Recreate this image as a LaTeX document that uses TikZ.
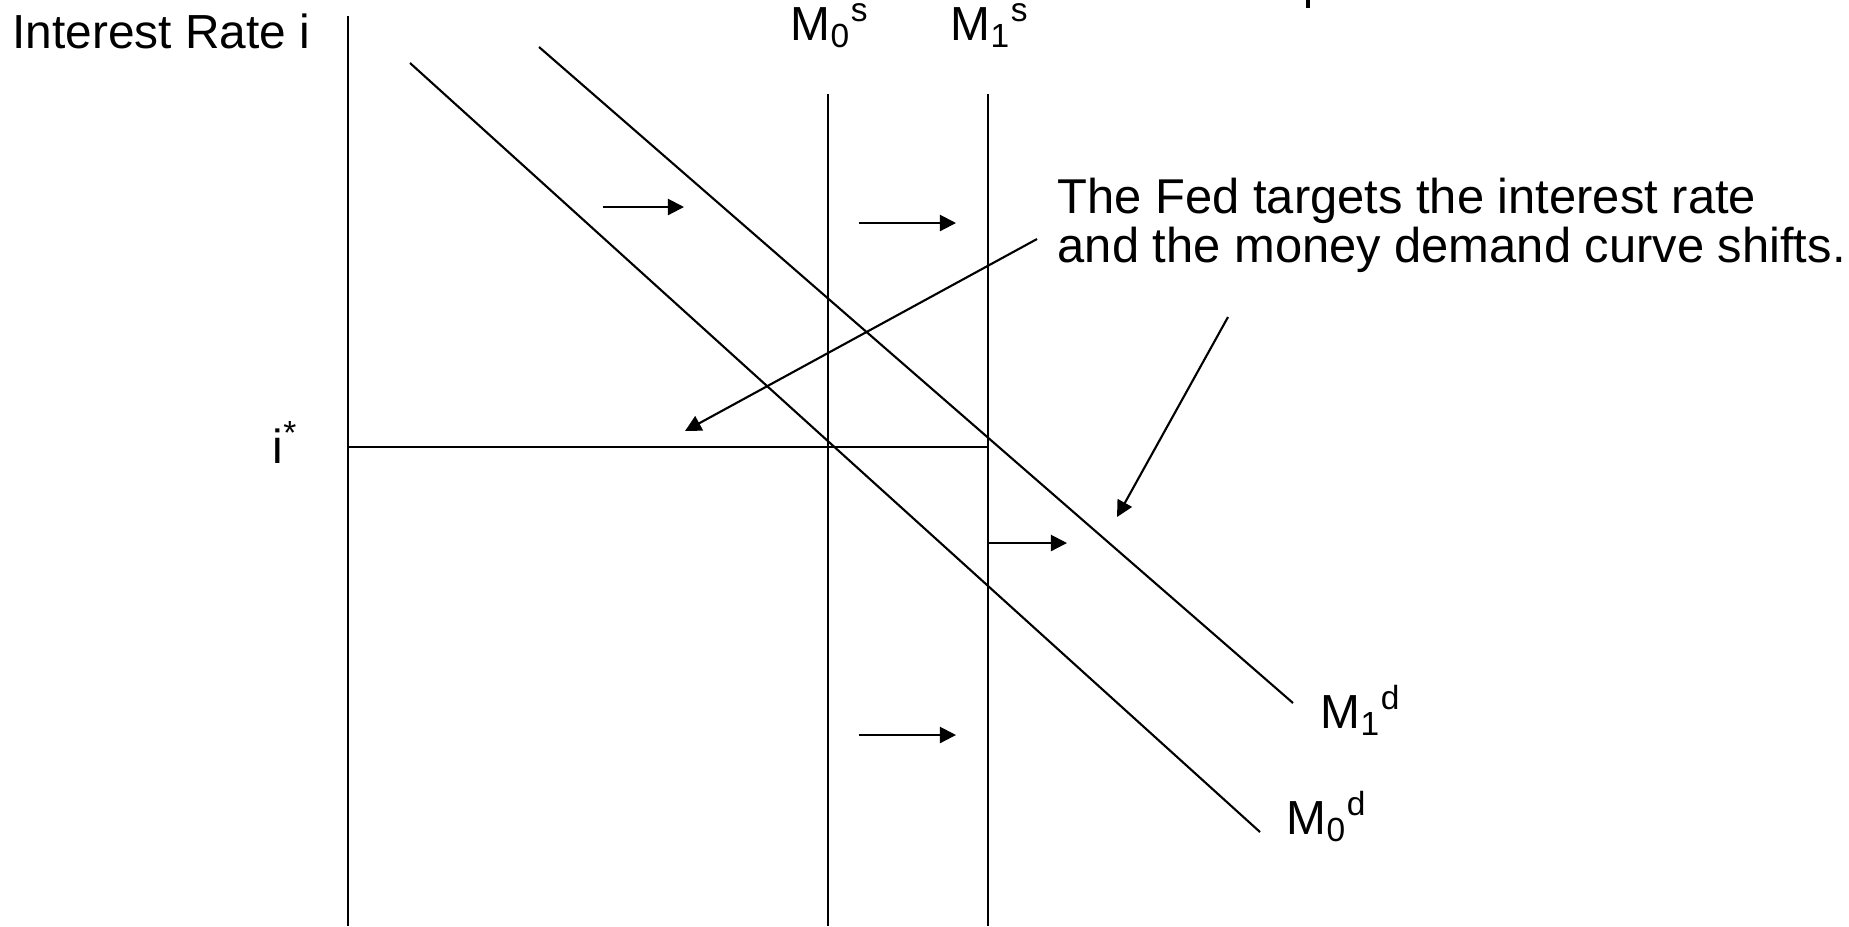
\documentclass[tikz,border=0pt]{standalone}
\usepackage{fontspec}
\setmainfont{Liberation Sans}
\usetikzlibrary{arrows.meta, positioning, calc}

\begin{document}
\begin{tikzpicture}[x=0.01cm, y=-0.01cm, >={Triangle[length=4.6pt, width=4.6pt]},
    lbl/.style={inner sep=0pt, font=\fontsize{13.6}{12.8}\selectfont},
    line/.style={line width=0.6pt},
    shiftarrow/.style={line width=0.6pt, ->}]
  \useasboundingbox (0,0) rectangle (1849,926);
  % Axis
  \coordinate (axtop) at (348,16);
  \coordinate (axbot) at (348,926);
  \draw[line] (axtop) -- (axbot);
  \node[lbl, anchor=base west] (ylab) at (12,48) {Interest Rate i};
  % Money supply: vertical lines
  \coordinate (s0top) at (828,94);
  \coordinate (s0bot) at (828,926);
  \coordinate (s1top) at (988,94);
  \coordinate (s1bot) at (988,926);
  \draw[line] (s0top) -- (s0bot);
  \draw[line] (s1top) -- (s1bot);
  \node[lbl, anchor=base west] (m0s) at (790,40) {M\textsubscript{0}\textsuperscript{s}};
  \node[lbl, anchor=base west] (m1s) at (950,40) {M\textsubscript{1}\textsuperscript{s}};
  % Money demand curves
  \coordinate (d0a) at (410,63);
  \coordinate (d0b) at (1260,832);
  \coordinate (d1a) at (539,47);
  \coordinate (d1b) at (1293,703);
  \draw[line] (d0a) -- (d0b);
  \draw[line] (d1a) -- (d1b);
  \node[lbl, anchor=base west] (m0d) at (1286,834) {M\textsubscript{0}\textsuperscript{d}};
  \node[lbl, anchor=base west] (m1d) at (1320,728) {M\textsubscript{1}\textsuperscript{d}};
  % Target rate i*
  \coordinate (iax) at (348,447);
  \coordinate (is1) at (988,447);
  \draw[line] (iax) -- (is1);
  \node[lbl, anchor=base west] (istar) at (272,463) {i\textsuperscript{*}};
  % Shifts to the right
  \coordinate (a1) at (603,207);
  \coordinate (b1) at (684,207);
  \coordinate (a2) at (859,223);
  \coordinate (b2) at (956,223);
  \coordinate (a3) at (988,543);
  \coordinate (b3) at (1067,543);
  \coordinate (a4) at (859,735);
  \coordinate (b4) at (956,735);
  \draw[shiftarrow] (a1) -- (b1);
  \draw[shiftarrow] (a2) -- (b2);
  \draw[shiftarrow] (a3) -- (b3);
  \draw[shiftarrow] (a4) -- (b4);
  % Note and its pointers
  \node[lbl, anchor=north west, align=left, font=\fontsize{13.9}{12.5}\selectfont] (note) at (1057,177)
    {The Fed targets the interest rate\\and the money demand curve shifts.};
  \coordinate (p1) at (1037,239);
  \coordinate (q1) at (685,431);
  \coordinate (p2) at (1228,317);
  \coordinate (q2) at (1117,517);
  \draw[shiftarrow] (p1) -- (q1);
  \draw[shiftarrow] (p2) -- (q2);
  % cropped stroke at the top edge
  \fill (1306,0) rectangle (1310,8);
\end{tikzpicture}
\end{document}
